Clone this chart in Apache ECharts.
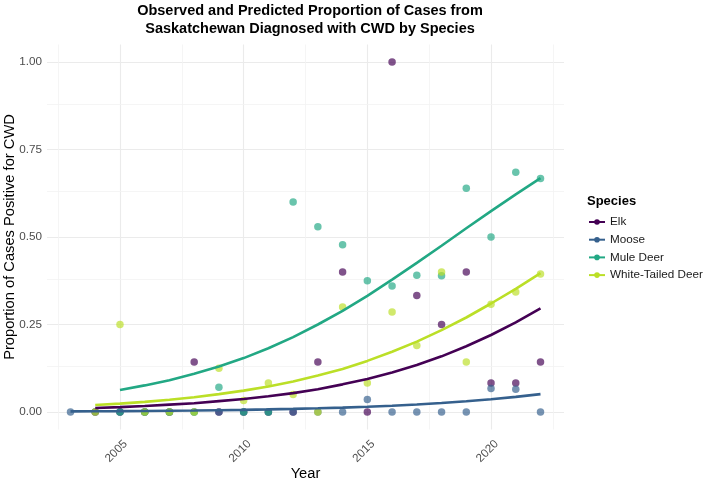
<!DOCTYPE html>
<html>
<head>
<meta charset="utf-8">
<script src="https://cdn.jsdelivr.net/npm/echarts@6/dist/echarts.min.js"></script>
<style>
  html, body { margin: 0; padding: 0; background: #fff; }
  #chart { width: 703px; height: 478px; }
</style>
</head>
<body>
<div id="chart"></div>
<script>
const years = [2003, 2004, 2005, 2006, 2007, 2008, 2009, 2010, 2011, 2012,
  2013, 2014, 2015, 2016, 2017, 2018, 2019, 2020, 2021, 2022];
const species = ['Elk', 'Moose', 'Mule Deer', 'White-Tailed Deer'];
const colors = ['#440154', '#35608D', '#22A884', '#BBDF27'];

// observed proportions (null = no data that year)
const obsElk = [null, 0, 0, 0, 0, 0.143, 0, 0, 0, 0, 0.143, 0.4, 0, 1.0, 0.333, 0.25, 0.4, 0.083, 0.083, 0.143];
const obsMoose = [0, 0, 0, 0, 0, 0, 0, 0, 0, 0, 0, 0, 0.036, 0, 0, 0, 0, 0.067, 0.065, 0];
const obsMule = [null, null, 0, 0, 0, 0, 0.071, 0, 0, 0.6, 0.529, 0.478, 0.375, 0.36, 0.391, 0.389, 0.639, 0.5, 0.685, 0.667];
const obsWtd = [null, 0, 0.25, 0, 0, 0, 0.125, 0.033, 0.083, 0.05, 0, 0.3, 0.083, 0.286, 0.19, 0.4, 0.143, 0.308, 0.343, 0.394];

// predicted proportions
const predElk = [null, 0.0115, 0.014, 0.017, 0.021, 0.025, 0.031, 0.037, 0.045, 0.054, 0.065, 0.079, 0.094, 0.113, 0.134, 0.159, 0.188, 0.220, 0.256, 0.296];
const predMoose = [0.0018, 0.0021, 0.0025, 0.003, 0.0036, 0.0043, 0.0052, 0.0062, 0.0074, 0.0088, 0.0106, 0.0126, 0.0151, 0.018, 0.0215, 0.0256, 0.0305, 0.0363, 0.0431, 0.0511];
const predMule = [null, null, 0.063, 0.076, 0.091, 0.109, 0.130, 0.154, 0.182, 0.214, 0.250, 0.289, 0.332, 0.378, 0.426, 0.475, 0.525, 0.574, 0.622, 0.668];
const predWtd = [null, 0.020, 0.024, 0.029, 0.035, 0.042, 0.051, 0.061, 0.073, 0.087, 0.104, 0.123, 0.146, 0.172, 0.201, 0.234, 0.270, 0.310, 0.352, 0.397];

const xTicks = [2005, 2010, 2015, 2020];
const yTicks = [0, 0.25, 0.5, 0.75, 1];
const xMinor = [2002.5, 2007.5, 2012.5, 2017.5, 2022.5];
const yMinor = [0.125, 0.375, 0.625, 0.875];

const observed = [obsElk, obsMoose, obsMule, obsWtd];
const predicted = [predElk, predMoose, predMule, predWtd];

function pairs(arr) {
  const out = [];
  arr.forEach((v, i) => { if (v !== null) out.push([years[i], v]); });
  return out;
}

const font = "'Liberation Sans', Arial, sans-serif";
const series = [];

// fitted lines first so the legend shows line + dot
species.forEach((s, i) => {
  series.push({
    name: s,
    type: 'line',
    data: pairs(predicted[i]),
    symbol: 'circle',
    symbolSize: 6,
    showSymbol: false,
    z: 4,
    lineStyle: { color: colors[i], width: 2.6 },
    itemStyle: { color: colors[i] }
  });
});

species.forEach((s, i) => {
  series.push({
    name: s,
    type: 'scatter',
    data: pairs(observed[i]),
    symbolSize: 7.5,
    z: 3,
    itemStyle: { color: colors[i], opacity: 0.68 }
  });
});

// minor grid lines
series.push({
  name: 'minor',
  type: 'line',
  data: [],
  z: 1,
  silent: true,
  markLine: {
    z: 1,
    silent: true,
    animation: false,
    symbol: 'none',
    label: { show: false },
    lineStyle: { color: '#F2F2F2', width: 0.8, type: 'solid' },
    data: xMinor.map(v => ({ xAxis: v })).concat(yMinor.map(v => ({ yAxis: v })))
  }
});

const chart = echarts.init(document.getElementById('chart'));
chart.setOption({
  animation: false,
  backgroundColor: '#fff',
  title: [
    {
      text: 'Observed and Predicted Proportion of Cases from\nSaskatchewan Diagnosed with CWD by Species',
      left: 305,
      top: -3,
      textAlign: 'center',
      textStyle: { fontFamily: font, fontSize: 14.5, fontWeight: 'bold', color: '#000', lineHeight: 18 }
    },
    {
      text: 'Species',
      left: 582,
      top: 190,
      textStyle: { fontFamily: font, fontSize: 13, fontWeight: 'bold', color: '#000' }
    }
  ],
  legend: {
    data: species,
    orient: 'vertical',
    left: 583,
    top: 211,
    itemWidth: 16,
    itemHeight: 7,
    itemGap: 5.7,
    textStyle: { fontFamily: font, fontSize: 11.7, color: '#1a1a1a' }
  },
  grid: { left: 47, right: 139, top: 44.5, bottom: 48.5, containLabel: false, outerBoundsMode: 'none' },
  xAxis: {
    type: 'value',
    min: 2002.05,
    max: 2022.95,
    name: 'Year',
    nameLocation: 'middle',
    nameGap: 37,
    nameMoveOverlap: false,
    nameTextStyle: { fontFamily: font, fontSize: 14.7, color: '#000' },
    axisLine: { show: false },
    axisTick: { show: false, customValues: xTicks },
    axisLabel: {
      customValues: xTicks,
      rotate: 45,
      align: 'right',
      verticalAlign: 'top',
      padding: [5.5, 3.5, 0, 0],
      margin: 2,
      fontFamily: font,
      fontSize: 11.7,
      color: '#4D4D4D',
      formatter: v => String(v)
    },
    splitLine: { show: true, lineStyle: { color: '#EBEBEB', width: 1.1 } }
  },
  yAxis: {
    type: 'value',
    min: -0.05,
    max: 1.05,
    name: 'Proportion of Cases Positive for CWD',
    nameLocation: 'middle',
    nameGap: 30,
    nameMoveOverlap: false,
    nameTextStyle: { fontFamily: font, fontSize: 14.7, color: '#000' },
    axisLine: { show: false },
    axisTick: { show: false, customValues: yTicks },
    axisLabel: {
      customValues: yTicks,
      margin: 5,
      fontFamily: font,
      fontSize: 11.7,
      color: '#4D4D4D',
      formatter: v => v.toFixed(2)
    },
    splitLine: { show: true, lineStyle: { color: '#EBEBEB', width: 1.1 } }
  },
  series: series
});
</script>
</body>
</html>
